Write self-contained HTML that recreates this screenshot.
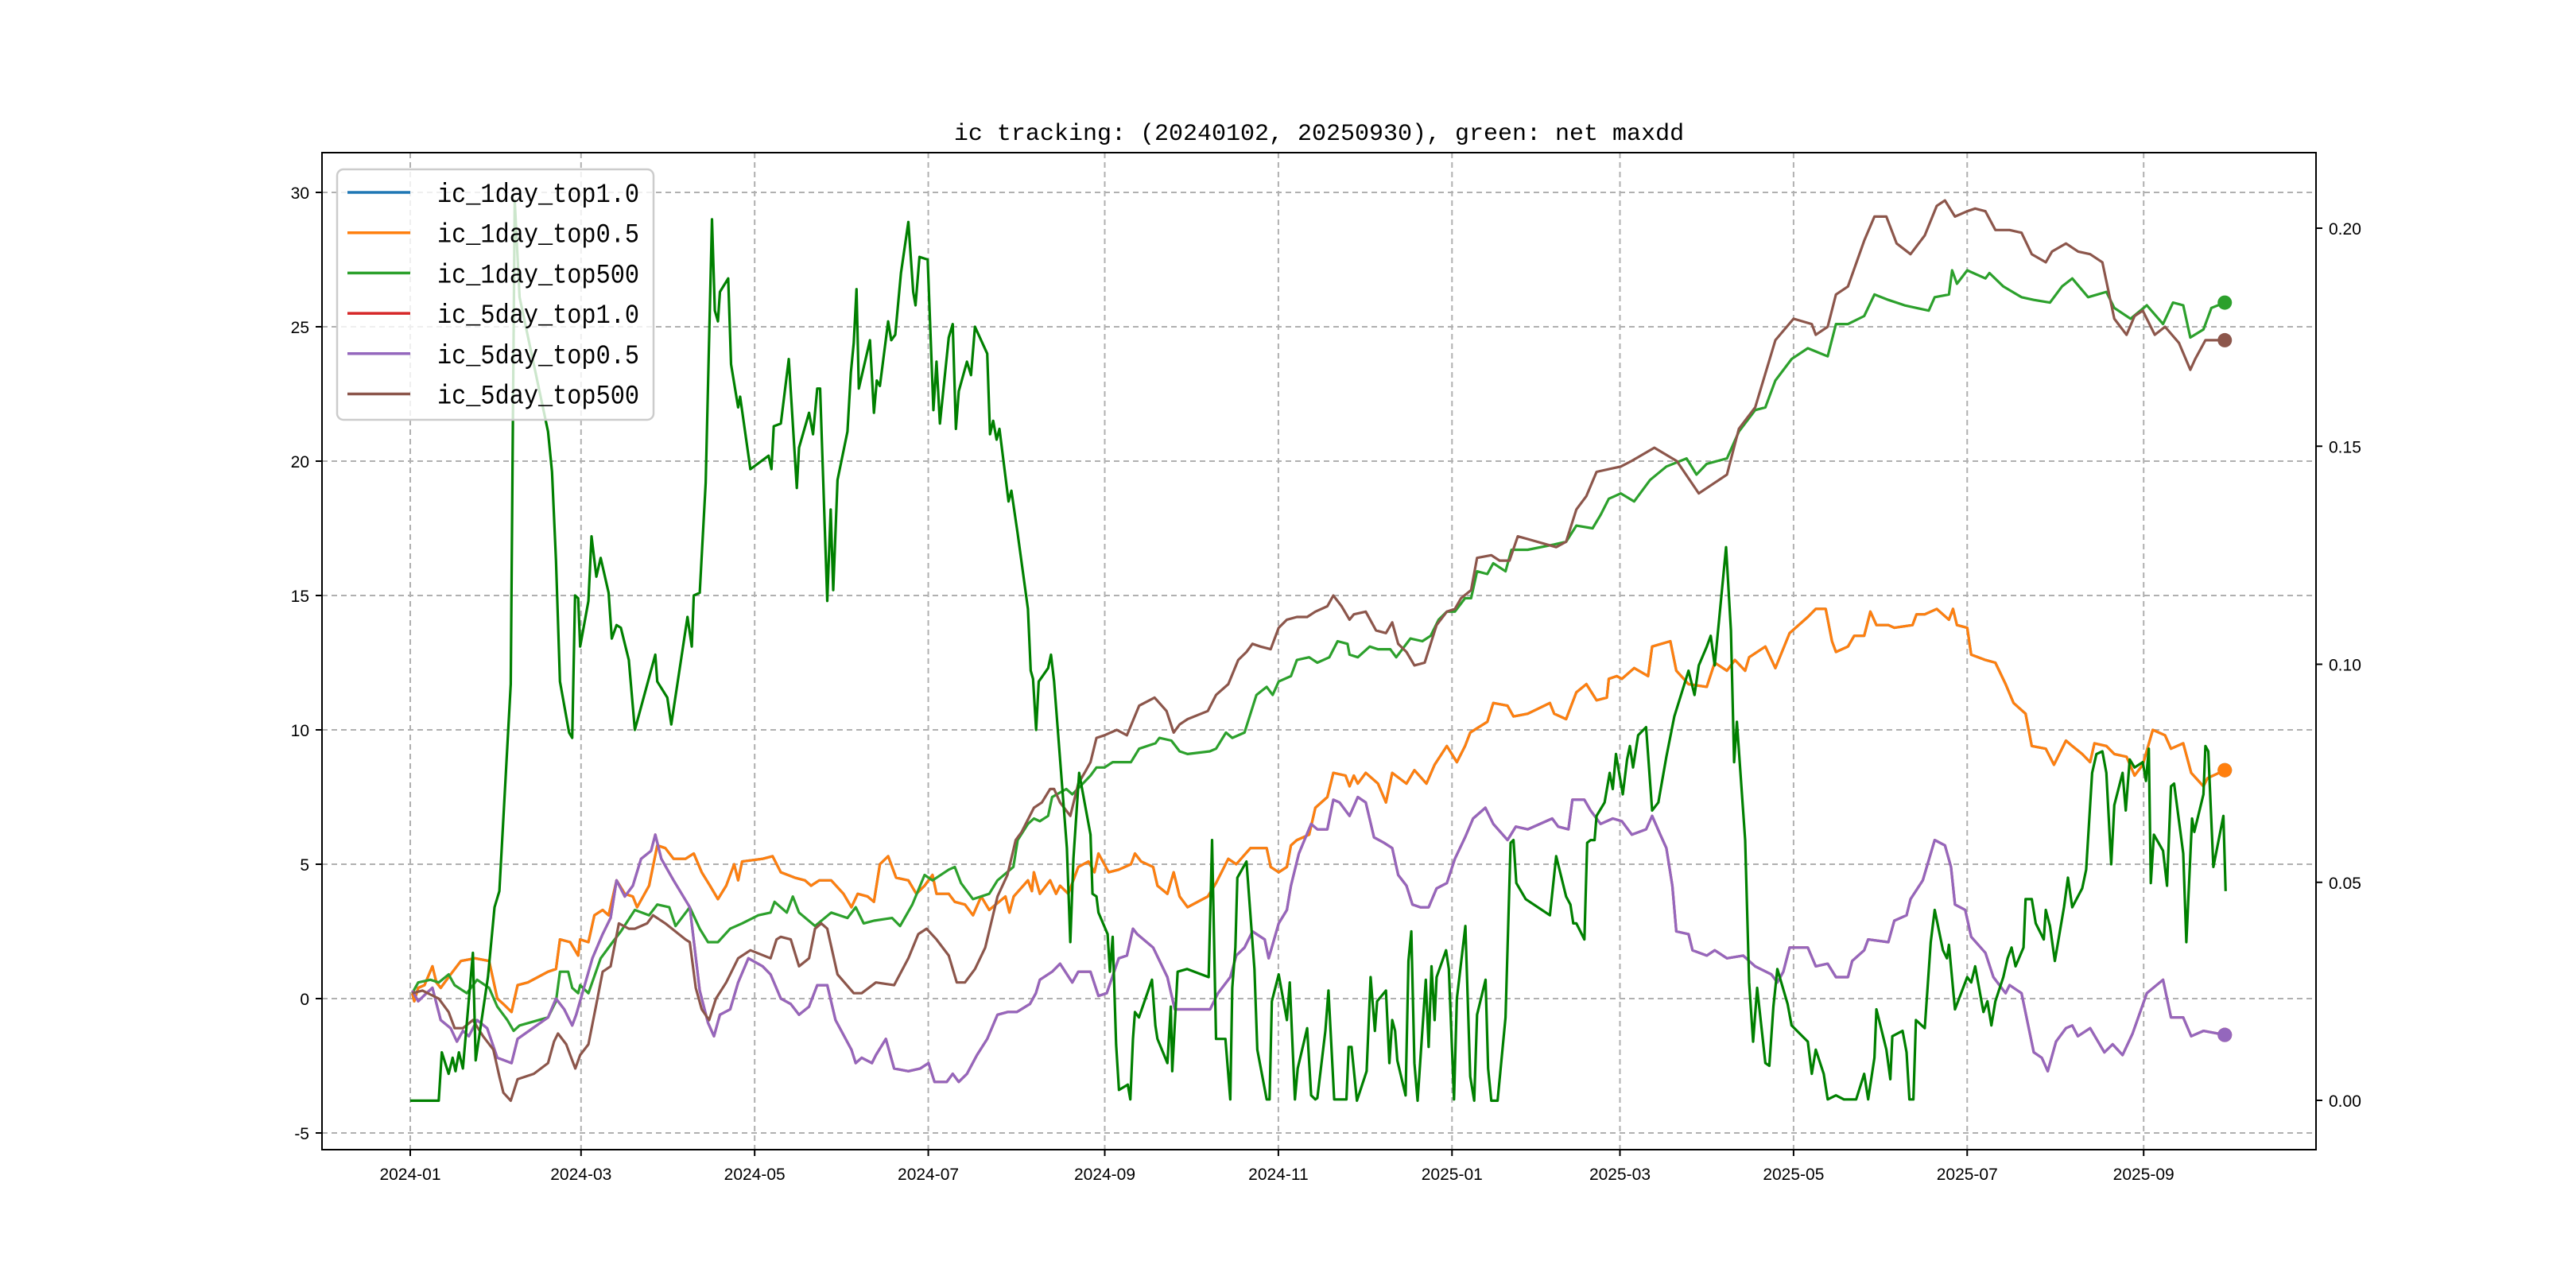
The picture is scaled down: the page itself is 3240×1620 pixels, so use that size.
<!DOCTYPE html>
<html><head><meta charset="utf-8"><style>
html,body{margin:0;padding:0;background:#fff}
svg{display:block}
</style></head><body>
<svg id="chart" width="3240" height="1620" viewBox="0 0 3240 1620" xmlns="http://www.w3.org/2000/svg">
<rect x="0" y="0" width="3240" height="1620" fill="#fff"/>
<text x="1659" y="176" text-anchor="middle" font-family="Liberation Mono, monospace" font-size="30">ic tracking: (20240102, 20250930), green: net maxdd</text>
<g id="grid"></g>
<g id="series"></g>
<rect x="405" y="192" width="2508" height="1254" fill="none" stroke="#000" stroke-width="2"/>
<g id="axes"></g>
<g id="legend">
<rect x="424" y="213" width="398" height="315" rx="8" fill="#fff" fill-opacity="0.8" stroke="#ccc" stroke-width="2.5"/>
</g>
</svg>
<script>
// x values: days since 2024-01-01
const xTickLabels = ["2024-01","2024-03","2024-05","2024-07","2024-09","2024-11","2025-01","2025-03","2025-05","2025-07","2025-09"];
const xTickDays = [0,60,121,182,244,305,366,425,486,547,609];
const yLeftTicks = [-5,0,5,10,15,20,25,30];
const yRightTicks = [0.00,0.05,0.10,0.15,0.20];
const seriesNames = ["ic_1day_top1.0","ic_1day_top0.5","ic_1day_top500","ic_5day_top1.0","ic_5day_top0.5","ic_5day_top500"];

const orangeData = [[0.7,0.2],[1.4,-0.1],[2.8,0.4],[5,0.5],[7.8,1.2],[9.2,0.6],[10.7,0.4],[14.2,0.9],[17.8,1.4],[22.8,1.5],[27.7,1.4],[30.6,0],[32.7,-0.2],[35.6,-0.5],[37.7,0.5],[41.3,0.6],[48.4,1],[51.2,1.1],[52.6,2.2],[56.2,2.1],[59,1.6],[59.7,2.2],[62.6,2.1],[64.7,3.1],[67.6,3.3],[69.7,3.1],[72.5,4.4],[75.4,3.9],[78.2,3.8],[79.7,3.4],[83.9,4.2],[86.8,5.7],[89.6,5.6],[92.5,5.2],[96.7,5.2],[99.6,5.4],[102.4,4.7],[105.3,4.2],[108.1,3.7],[111,4.2],[113.8,5],[115.2,4.4],[116.6,5.1],[123.8,5.2],[127.3,5.3],[130.2,4.7],[135.1,4.5],[138.7,4.4],[140.8,4.2],[143.7,4.4],[147.9,4.4],[152.2,3.9],[155,3.4],[157.2,3.9],[160.7,3.8],[162.9,3.6],[165,5],[167.9,5.3],[170.7,4.5],[175,4.4],[177.8,3.9],[180.7,4.2],[183.5,4.6],[184.9,3.9],[189.2,3.9],[191.3,3.6],[194.9,3.5],[197.7,3.1],[200.6,3.8],[203.4,3.3],[209.1,3.8],[210.5,3.2],[212,3.8],[217,4.4],[218.4,4],[219.1,4.7],[221.2,3.9],[224.8,4.4],[226.9,3.9],[228.3,4.2],[231.2,3.9],[234.7,4.9],[238.3,5.1],[240.4,4.7],[241.8,5.4],[245.4,4.7],[248.9,4.8],[253.2,5],[254.6,5.4],[256.8,5.1],[261,4.9],[262.5,4.2],[266,3.9],[268.2,4.7],[270.3,3.8],[273.1,3.4],[280.2,3.8],[283.1,4.3],[287.4,5.2],[290.2,5],[295.2,5.6],[300.9,5.6],[302.3,4.9],[305.1,4.7],[308,4.9],[309.4,5.7],[311.5,5.9],[315.8,6.1],[318,7.1],[322.2,7.5],[324.3,8.4],[328.6,8.3],[330,7.9],[331.5,8.3],[332.9,8],[335.7,8.4],[340,8],[342.8,7.3],[345,8.4],[350,8],[352.8,8.5],[357,8],[359.9,8.7],[364.2,9.4],[367.7,8.8],[370.6,9.4],[372.4,9.9],[378.4,10.3],[380.5,11],[385.5,10.9],[387.6,10.5],[392.6,10.6],[400.4,11],[401.9,10.6],[406.1,10.4],[409.7,11.4],[413.2,11.7],[416.8,11.1],[420.4,11.2],[421.1,11.9],[423.9,12],[425.7,11.9],[430,12.3],[434.9,12],[436.3,13.1],[442.7,13.3],[444.8,12.2],[449.1,11.7],[455.5,11.6],[458.3,12.5],[462.6,12.2],[465.4,12.6],[469,12.2],[470.4,12.7],[476.1,13.1],[479.6,12.3],[484.6,13.6],[491,14.2],[493.8,14.5],[497.3,14.5],[499.5,13.3],[500.9,12.9],[505.1,13.1],[507.3,13.5],[510.8,13.5],[513,14.4],[515.1,13.9],[519.3,13.9],[521.4,13.8],[527.8,13.9],[529.2,14.3],[532.1,14.3],[536.3,14.5],[540.6,14.1],[542,14.5],[543.4,13.9],[547,13.8],[548.4,12.8],[553.4,12.6],[556.9,12.5],[560.5,11.7],[563.3,11],[567.5,10.6],[569.7,9.4],[574.6,9.3],[577.5,8.7],[581.7,9.6],[583.9,9.4],[587.4,9.1],[590.2,8.8],[591.7,9.5],[595.9,9.4],[598.7,9.1],[603,9],[605.8,8.3],[608.7,8.7],[612.2,10],[616.5,9.8],[618.6,9.3],[622.9,9.5],[625.7,8.4],[630,7.9],[631.4,8.2],[637.5,8.5]];

const greenData = [[0.7,0.2],[2.8,0.6],[7.1,0.7],[10,0.6],[13.5,0.9],[15.6,0.5],[19.9,0.2],[23.5,0.7],[27.7,0.4],[30.6,-0.3],[34.1,-0.8],[36.3,-1.2],[38.4,-1],[48.4,-0.7],[51.2,-0.1],[52.6,1],[55.5,1],[56.9,0.4],[59,0.2],[59.7,0.5],[62.6,0.2],[66.9,1.5],[71.1,2.1],[74,2.5],[78.9,3.3],[83.9,3.1],[86.8,3.5],[91,3.4],[93.2,2.7],[98.2,3.4],[101.7,2.6],[104.6,2.1],[108.1,2.1],[112.4,2.6],[116.6,2.8],[122.3,3.1],[126.6,3.2],[128,3.6],[132.3,3.2],[134.4,3.8],[136.6,3.2],[142.2,2.7],[147.9,3.2],[153.6,3],[156.5,3.4],[159.3,2.8],[162.9,2.9],[169.3,3],[172.1,2.7],[176.4,3.5],[180.7,4.6],[183.5,4.4],[189.2,4.8],[191.3,4.9],[193.5,4.3],[197.7,3.7],[203.4,3.9],[206.3,4.4],[211.9,4.9],[213.4,5.9],[217,6.5],[219.1,6.7],[221.2,6.6],[224.1,6.8],[225.5,7.5],[230.5,7.8],[232.6,7.6],[235.4,7.9],[239,8.3],[241.1,8.6],[243.9,8.6],[246.8,8.8],[253.2,8.8],[256.1,9.3],[261.8,9.5],[263.2,9.7],[267.4,9.6],[270.3,9.2],[273.1,9.1],[280.9,9.2],[283.1,9.3],[286.6,9.9],[288.8,9.7],[293.1,9.9],[297.3,11.3],[300.9,11.6],[303,11.3],[305.1,11.8],[309.4,12],[311.5,12.6],[315.8,12.7],[318.7,12.5],[322.9,12.7],[325.8,13.3],[329.3,13.2],[330,12.8],[332.9,12.7],[337.1,13.1],[340,13],[344.3,13],[346.4,12.7],[351.4,13.4],[355.6,13.3],[358.5,13.5],[361.3,14.1],[364.2,14.4],[367,14.4],[370.6,14.9],[372.7,14.9],[374.8,15.9],[378.4,15.8],[380.5,16.2],[384.8,15.9],[386.9,16.7],[392.6,16.7],[401.9,16.9],[406.1,17],[409.7,17.6],[415.4,17.5],[418.2,18],[421.1,18.6],[425.3,18.8],[430,18.5],[435.6,19.3],[441.3,19.8],[448.4,20.1],[451.9,19.5],[455.5,19.9],[462.6,20.1],[466.8,21.1],[472.5,21.9],[476.1,22],[479.6,23],[485.3,23.8],[491,24.2],[498,23.9],[500.9,25.1],[505.1,25.1],[510.8,25.4],[514.4,26.2],[519.3,26],[525,25.8],[533.5,25.6],[535.6,26.1],[540.6,26.2],[541.7,27.1],[543.4,26.6],[547,27.1],[553.4,26.8],[554.8,27],[559.7,26.5],[566.1,26.1],[570.4,26],[576.1,25.9],[580.3,26.5],[583.9,26.8],[589.5,26.1],[595.9,26.3],[598.7,25.7],[604.4,25.3],[610.1,25.8],[615.8,25.1],[619.3,25.9],[622.9,25.8],[625.4,24.6],[630,24.9],[632.8,25.7],[637.5,25.9]];

const purpleData = [[0.7,0.3],[2.8,-0.1],[5.7,0.2],[7.8,0.4],[10.7,-0.8],[14.2,-1.1],[16.4,-1.6],[18.5,-1.2],[20.6,-1.4],[23.5,-0.8],[27,-1.1],[30.6,-2.2],[35.6,-2.4],[37.7,-1.5],[48.4,-0.7],[51.2,0],[54.1,-0.4],[56.9,-1],[58.3,-0.6],[64,1.5],[67.6,2.4],[70.4,3],[72.5,4.4],[75.4,3.8],[78.2,4.2],[81.1,5.2],[84.6,5.5],[86.1,6.1],[88.2,5.2],[92.5,4.4],[98.2,3.4],[101.7,0.3],[104.6,-0.9],[106.7,-1.4],[108.8,-0.6],[112.4,-0.4],[115.2,0.6],[118.8,1.5],[123.8,1.2],[126.6,0.9],[130.2,0],[133.7,-0.2],[136.6,-0.6],[140.1,-0.3],[143,0.5],[146.5,0.5],[149.4,-0.8],[155,-1.9],[156.5,-2.4],[158.6,-2.2],[162.2,-2.4],[163.6,-2.1],[167.1,-1.5],[170,-2.6],[175,-2.7],[179.2,-2.6],[182.1,-2.4],[184.2,-3.1],[188.5,-3.1],[190.6,-2.8],[192.7,-3.1],[195.6,-2.8],[199.1,-2.1],[202.7,-1.5],[206.3,-0.6],[209.8,-0.5],[213.1,-0.5],[217.7,-0.2],[219.8,0.2],[221.2,0.7],[225.5,1],[228.3,1.3],[232.6,0.6],[234.7,1],[239,1],[241.8,0.1],[244.7,0.2],[248.9,1.5],[251.8,1.6],[253.9,2.6],[255.4,2.4],[261,1.9],[266,0.8],[268.6,-0.4],[281,-0.4],[283.8,0.2],[288.1,0.8],[290.2,1.6],[293.1,1.9],[295.9,2.5],[300.2,2.2],[301.6,1.5],[305.1,2.8],[308,3.3],[309.4,4.2],[312.2,5.4],[316.5,6.5],[318.7,6.3],[322.2,6.3],[324.3,7.4],[326.5,7.3],[330,6.8],[332.9,7.5],[335.7,7.3],[338.6,6],[342.1,5.8],[345,5.6],[347.1,4.6],[350,4.2],[352.1,3.5],[354.9,3.4],[357.8,3.4],[360.6,4.1],[364.2,4.3],[367,5.2],[370.6,6],[373.4,6.7],[377.7,7.1],[380.5,6.5],[385.5,5.9],[388.4,6.4],[392.6,6.3],[401.2,6.7],[403.3,6.4],[406.9,6.3],[408.3,7.4],[412.5,7.4],[414.7,7],[418.2,6.5],[422.5,6.7],[425.7,6.6],[429.2,6.1],[434.2,6.3],[436.3,6.8],[439.2,6.1],[441.3,5.6],[443.4,4.2],[444.8,2.5],[449.1,2.4],[450.5,1.8],[455.5,1.6],[458.3,1.8],[462.6,1.5],[468.3,1.6],[472.5,1.2],[478.2,0.9],[480.3,0.6],[482.4,1],[484.6,1.9],[491,1.9],[493.8,1.2],[498,1.3],[500.9,0.8],[505.1,0.8],[506.6,1.4],[510.8,1.8],[512.2,2.2],[519.3,2.1],[521.4,2.9],[525.7,3.1],[527.1,3.7],[531.4,4.4],[535.6,5.9],[539.2,5.7],[541.3,4.9],[542.7,3.5],[546.3,3.3],[548.4,2.3],[553.4,1.7],[556.2,0.8],[560.5,0.2],[561.9,0.5],[566.1,0.2],[570.4,-2],[573.2,-2.2],[575.3,-2.7],[578.2,-1.6],[581.7,-1.1],[583.9,-1],[585.9,-1.4],[590.2,-1.1],[595.2,-2],[598.1,-1.7],[601.6,-2.1],[605.1,-1.3],[610.1,0.2],[615.8,0.7],[618.6,-0.7],[622.9,-0.7],[625.7,-1.4],[630,-1.2],[637.5,-1.35]];

const brownData = [[0.7,0.2],[4.3,0.3],[10,0],[13.5,-0.5],[15.6,-1.1],[18.5,-1.1],[22,-0.8],[25.6,-1.4],[29.2,-1.9],[31.3,-2.9],[32.7,-3.5],[35.3,-3.8],[37.7,-3],[43.4,-2.8],[48.4,-2.4],[50.5,-1.6],[51.9,-1.3],[54.8,-1.7],[56.2,-2.1],[58,-2.6],[59.7,-2.1],[62.6,-1.7],[65.4,-0.2],[67.6,1],[70.4,1.2],[73.3,2.8],[76.8,2.6],[78.9,2.6],[83.2,2.8],[85.3,3.1],[89.6,2.8],[96.7,2.2],[98.2,2.1],[100.3,0.4],[102.4,-0.4],[105,-0.8],[107.4,0],[111,0.6],[115.2,1.5],[119.5,1.8],[126.6,1.5],[128.7,2.2],[130.2,2.3],[133.7,2.2],[136.6,1.2],[140.1,1.5],[142.2,2.6],[144.4,2.8],[146.5,2.6],[150.1,0.9],[155.8,0.2],[158.6,0.2],[163.6,0.6],[170,0.5],[175,1.5],[178.5,2.4],[181.4,2.6],[184.9,2.2],[189.2,1.6],[192,0.6],[194.9,0.6],[198.4,1.1],[202,1.9],[206.3,3.8],[209.8,4.6],[212.7,5.9],[214.8,6.2],[219.1,7.1],[221.9,7.3],[224.8,7.8],[226.2,7.8],[228.3,7.3],[231.9,6.8],[234.7,8],[236.9,8.4],[239,8.8],[241.1,9.7],[243.9,9.8],[248.2,10],[251.8,9.8],[256.1,10.9],[261.5,11.2],[265.7,10.7],[268.2,9.9],[270.3,10.2],[273.1,10.4],[280.2,10.7],[283.1,11.3],[287.4,11.7],[290.9,12.6],[293.8,12.9],[295.9,13.2],[298.7,13.1],[302.3,13],[305.1,13.8],[308,14.1],[311.5,14.2],[315.1,14.2],[318,14.4],[322.2,14.6],[324.3,15],[327.2,14.6],[330,14.1],[331.5,14.3],[335.7,14.4],[339.3,13.7],[342.8,13.6],[345,14],[347.1,13.2],[350,12.9],[352.8,12.4],[356.4,12.5],[360.6,13.9],[364.2,14.4],[367,14.5],[369.2,14.9],[372.7,15.2],[374.8,16.4],[379.8,16.5],[382.7,16.3],[386.2,16.3],[389.1,17.2],[392.6,17.1],[402.6,16.8],[406.1,17],[409.7,18.2],[413.2,18.7],[416.8,19.6],[421.1,19.7],[425.3,19.8],[429,20],[437.1,20.5],[445,20],[452.7,18.8],[462.6,19.5],[466.8,21.2],[472.5,22],[479.6,24.5],[486,25.3],[492.4,25.1],[493.8,24.7],[498,25],[500.9,26.2],[505.1,26.5],[510.8,28.2],[514.4,29.1],[518.6,29.1],[522.2,28.1],[527.1,27.7],[532.1,28.4],[536.3,29.5],[539.2,29.7],[542.7,29.1],[547,29.3],[549.8,29.4],[553.4,29.3],[556.9,28.6],[561.9,28.6],[566.1,28.5],[569.7,27.7],[574.6,27.4],[576.8,27.8],[581.7,28.1],[586,27.8],[590.2,27.7],[594.5,27.4],[598.7,25.3],[603,24.7],[605.8,25.4],[608.7,25.6],[612.9,24.7],[616.5,25],[621.4,24.4],[625.4,23.4],[627.1,23.8],[630.7,24.5],[637.5,24.5]];

// net maxdd series (dark green), values expressed in left-axis units
const maxddData = [[0,-3.8],[10,-3.8],[11.1,-2],[13.5,-2.8],[14.9,-2.2],[15.9,-2.7],[17.1,-2],[18.5,-2.6],[22,1.7],[23,-2.3],[27.3,0.8],[29.6,3.4],[31.3,4],[35.3,11.7],[36.7,29.7],[38.4,26.1],[48.4,21.1],[49.8,19.6],[51.2,16.3],[52.6,11.8],[55.8,9.9],[56.9,9.7],[57.9,15],[59,14.9],[59.7,13.1],[62.6,14.8],[63.7,17.2],[65.4,15.7],[66.9,16.4],[69.7,15.1],[70.8,13.4],[72.5,13.9],[74,13.8],[76.8,12.6],[78.9,10],[86.1,12.8],[86.8,11.8],[90.3,11.2],[91.7,10.2],[97.4,14.2],[98.9,13.1],[99.6,15],[101.7,15.1],[103.8,19.2],[106,29],[107,25.6],[108.1,25.2],[108.8,26.3],[111.7,26.8],[112.7,23.6],[115.2,22],[115.9,22.4],[119.5,19.7],[125.9,20.2],[126.9,19.7],[127.7,21.3],[130.2,21.4],[133,23.8],[135.8,19],[136.6,20.5],[140.1,21.8],[141.5,21],[143,22.7],[144,22.7],[146.5,14.8],[147.7,18.2],[148.6,15.2],[150.1,19.3],[153.6,21.1],[154.8,23.3],[155.8,24.4],[156.8,26.4],[157.6,22.7],[161.5,24.5],[162.9,21.8],[163.9,23],[165,22.8],[167.9,25.2],[169,24.5],[170.4,24.7],[172.4,27],[175,28.9],[176.7,26.3],[177.5,25.8],[178.9,27.6],[181.8,27.5],[183.8,21.9],[184.9,23.7],[186.1,21.4],[189.2,24.6],[190.6,25.1],[191.7,21.2],[192.7,22.6],[195.6,23.7],[197,23.2],[198.4,25],[202.7,24],[203.7,21],[204.8,21.5],[206,20.8],[207,21.2],[210.2,18.5],[211.2,18.9],[213.4,17.3],[217,14.5],[218,12.2],[218.8,11.9],[219.9,10],[220.8,11.8],[224.1,12.3],[225.1,12.8],[226.2,11.8],[230.7,5.6],[231.9,2.1],[233,5.2],[235,8.4],[239,6.1],[239.7,3.9],[241.1,3.8],[241.8,3.2],[245,2.4],[245.8,1],[246.8,2.3],[248,-1.7],[249,-3.4],[252.1,-3.2],[253,-3.75],[253.9,-1.5],[254.6,-0.5],[256,-0.7],[260.6,0.7],[261.8,-1],[262.5,-1.5],[266,-2.4],[267.2,-0.3],[267.7,-2.7],[269.6,1],[272.9,1.1],[280.5,0.8],[281.7,5.9],[283.1,-1.5],[286.4,-1.5],[288.1,-3.75],[288.8,0.4],[289.9,1.9],[290.6,4.5],[293.8,5.1],[296.6,1.1],[297.6,-1.9],[300.9,-3.75],[301.9,-3.75],[302.7,-0.1],[305.1,0.9],[308,-0.8],[309,0.6],[310.8,-3.75],[311.8,-2.6],[315.1,-1.1],[316.5,-3.6],[318,-3.75],[318.7,-3.7],[321.5,-1.2],[322.6,0.3],[324.6,-3.75],[328.9,-3.75],[329.7,-1.8],[330.7,-1.8],[332.6,-3.8],[336,-2.7],[337.4,0.8],[338.9,-1.2],[339.7,-0.1],[342.8,0.3],[344,-2.4],[345,-0.8],[346,-1.2],[346.8,-2.3],[349.7,-3.6],[350.7,1.4],[351.7,2.5],[352.8,-2.4],[353.9,-3.8],[356.8,0.7],[357.8,-1.8],[358.8,1.2],[359.9,-0.8],[360.6,0.8],[363.9,1.8],[364.9,1.1],[366.7,-3.75],[367.7,0],[370.7,2.7],[372.4,-2.9],[373.8,-3.8],[374.8,-0.6],[377.8,0.7],[378.7,-2.6],[379.8,-3.8],[382,-3.8],[384.8,-0.7],[386.6,5.8],[387.6,5.9],[388.6,4.3],[391.9,3.7],[400.4,3.1],[402.6,5.3],[406.1,3.8],[407.6,3.5],[408.6,2.8],[409.7,2.8],[412.5,2.2],[413.5,5.8],[414.7,5.9],[416.1,5.9],[416.8,6.8],[419.6,7.3],[421.4,8.4],[422.5,7.8],[423.6,9.1],[426,7.6],[427.5,8.9],[428.5,9.4],[429.6,8.6],[431.4,9.8],[434.2,10.1],[436.3,7],[438.5,7.3],[441.3,9],[444.1,10.5],[449.1,12.2],[451.2,11.3],[452.7,12.4],[455.5,13.1],[456.9,13.5],[458.3,12.4],[462.3,16.8],[464,13.7],[465.1,8.8],[466.1,10.3],[469,5.9],[470.4,0.6],[471.8,-1.6],[473.2,0.4],[476.1,-2.4],[477.5,-2.5],[478.9,-0.3],[480.3,1.1],[483.9,-0.2],[485.3,-1],[491,-1.6],[492.4,-2.8],[493.8,-1.9],[496.6,-2.8],[498,-3.75],[500.9,-3.6],[503.7,-3.75],[508,-3.75],[510.8,-2.8],[512.2,-3.75],[514.4,-2.2],[515.1,-0.4],[518.6,-1.9],[520,-3],[520.7,-1.4],[524.3,-1.2],[525.7,-2],[526.7,-3.75],[528.1,-3.75],[529,-0.8],[532.1,-1.1],[534.2,2.1],[535.6,3.3],[538.5,1.8],[539.9,1.5],[540.6,2],[542.7,-0.4],[547,0.8],[548.4,0.6],[549.8,1.2],[552.7,-0.5],[554.1,-0.1],[555.5,-1],[556.9,-0.1],[559.7,0.8],[561.2,1.5],[562.6,1.9],[564,1.2],[566.8,1.9],[567.5,3.7],[569.7,3.7],[571.1,2.8],[573.9,2.2],[574.6,3.3],[576.1,2.7],[577.8,1.4],[581,3.4],[582.4,4.5],[583.9,3.4],[587.4,4.1],[588.8,4.8],[590.9,8.4],[592.4,9.1],[594.5,9.2],[595.9,8.4],[597.6,5],[598.7,7.2],[601.6,8.4],[602.7,7],[604.1,8.9],[605.8,8.6],[608.7,8.8],[609.8,8.1],[610.8,9.3],[611.5,4.3],[612.6,6.1],[615.8,5.5],[617.2,4.2],[618.6,7.9],[619.7,8],[622.9,5.4],[624,2.1],[626,6.7],[626.8,6.2],[630,7.6],[630.7,9.4],[631.7,9.2],[633.5,4.9],[637,6.8],[637.8,4]];

const blueData = orangeData;
const redData = purpleData;

const NS = "http://www.w3.org/2000/svg";
const PL = 405, PR = 2913, PT = 192, PB = 1446;
function xDay(d){ return 516 + d * 3.58; }
function yLeft(v){ return 242 + (30 - v) * 33.8; }
function yRight(v){ return 1384 - v * 5485; }
function mk(tag, attrs, parent){
  const e = document.createElementNS(NS, tag);
  for (const k in attrs) e.setAttribute(k, attrs[k]);
  parent.appendChild(e);
  return e;
}
const grid = document.getElementById('grid');
const axes = document.getElementById('axes');
const series = document.getElementById('series');
const FONT = "Liberation Sans, DejaVu Sans, sans-serif";

xTickDays.forEach((d, i) => {
  const x = xDay(d);
  const g = mk('line', {x1:x, x2:x, y1:PT, y2:PB, stroke:'#b0b0b0', 'stroke-width':2, 'stroke-dasharray':'7,5'}, grid);
  
  
  const t = mk('line', {x1:x, x2:x, y1:PB, y2:PB+8, stroke:'#000', 'stroke-width':2}, axes);
  
  
  const l = mk('text', {x:x, y:PB+38, 'text-anchor':'middle', 'font-family':FONT, 'font-size':21}, axes);
  
  
  l.textContent = xTickLabels[i];
});
yLeftTicks.forEach(v => {
  const y = yLeft(v);
  const g = mk('line', {x1:PL, x2:PR, y1:y, y2:y, stroke:'#b0b0b0', 'stroke-width':2, 'stroke-dasharray':'7,5'}, grid);
  
  
  const t = mk('line', {x1:PL-8, x2:PL, y1:y, y2:y, stroke:'#000', 'stroke-width':2}, axes);
  
  
  const l = mk('text', {x:PL-16, y:y+8, 'text-anchor':'end', 'font-family':FONT, 'font-size':21}, axes);
  
  
  l.textContent = String(v);
});
yRightTicks.forEach(v => {
  const y = yRight(v);
  const t = mk('line', {x1:PR, x2:PR+8, y1:y, y2:y, stroke:'#000', 'stroke-width':2}, axes);
  
  
  const l = mk('text', {x:PR+16, y:y+8, 'text-anchor':'start', 'font-family':FONT, 'font-size':21}, axes);
  
  
  l.textContent = v.toFixed(2);
});

function drawLine(data, yfn, color, name, marker){
  const pts = data.map(p => xDay(p[0]).toFixed(1) + ',' + yfn(p[1]).toFixed(1)).join(' ');
  const pl = mk('polyline', {points:pts, fill:'none', stroke:color, 'stroke-width':3.2, 'stroke-linejoin':'round'}, series);
  
  
  if (marker) {
    const last = data[data.length-1];
    const c = mk('circle', {cx:xDay(last[0]), cy:yfn(last[1]), r:9, fill:color}, series);
    
    
  }
}
drawLine(blueData, yLeft, '#1f77b4', 'ic-1day-top1-0-line', true);
drawLine(orangeData, yLeft, '#ff7f0e', 'ic-1day-top0-5-line', true);
drawLine(greenData, yLeft, '#2ca02c', 'ic-1day-top500-line', true);
drawLine(redData, yLeft, '#d62728', 'ic-5day-top1-0-line', true);
drawLine(purpleData, yLeft, '#9467bd', 'ic-5day-top0-5-line', true);
drawLine(brownData, yLeft, '#8c564b', 'ic-5day-top500-line', true);
drawLine(maxddData, yLeft, '#008000', 'net-maxdd-line', false);

const legend = document.getElementById('legend');
const legendColors = ['#1f77b4','#ff7f0e','#2ca02c','#d62728','#9467bd','#8c564b'];
seriesNames.forEach((n, i) => {
  const y = 242 + i * 50.7;
  const ln = mk('line', {x1:437, x2:516, y1:y, y2:y, stroke:legendColors[i], 'stroke-width':3.5}, legend);
  
  
  const t = mk('text', {x:550, y:y+12, 'font-family':'Liberation Mono, monospace', 'font-size':34, textLength:254, lengthAdjust:'spacingAndGlyphs'}, legend);
  
  
  t.textContent = n;
});
</script>
</body></html>
